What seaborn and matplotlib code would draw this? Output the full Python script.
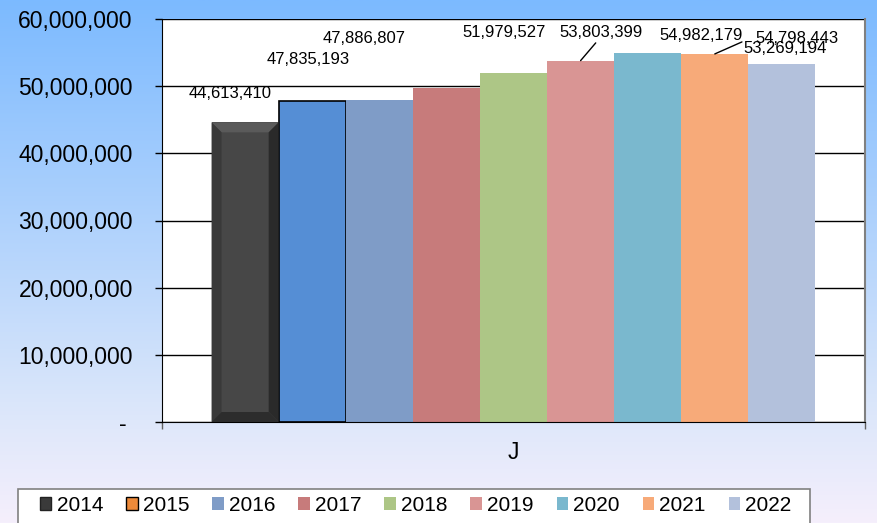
import matplotlib
matplotlib.use("Agg")
import matplotlib.pyplot as plt
import seaborn as sns
import pandas as pd
import numpy as np
from matplotlib.colors import LinearSegmentedColormap
from matplotlib.patches import Patch, Rectangle, Polygon
from matplotlib.transforms import IdentityTransform
from matplotlib.ticker import FuncFormatter

# data
years = ["2014", "2015", "2016", "2017", "2018", "2019", "2020", "2021", "2022"]
values = [44613410, 47835193, 47886807, 49750000, 51979527, 53803399, 54982179, 54798443, 53269194]
show_label = [True, True, True, False, True, True, True, True, True]
category = "J"

colors = ["#474747", "#558ed5", "#7f9cc7", "#c77b7b", "#adc686", "#d99594",
          "#7ab8ce", "#f7aa79", "#b3c1dc"]
legend_colors = ["#3a3a3a", "#ed8a3a"] + colors[2:]

# label offsets in pixels (dx, dy) from top centre of each bar, and leader flag
label_offsets = [(-15, 29), (-4, 41), (-15, 62), (0, 0), (-9, 40),
                 (20, 28), (53, 17), (82, 15), (3, 16)]
leaders = [None, None, None, None, None, (0.47, 0.0), None, (-0.16, 0.3), None]

df = pd.DataFrame({"cat": [category] * len(years), "year": years, "value": values})

plt.rcParams["font.family"] = ["Liberation Sans", "DejaVu Sans"]

fig = plt.figure(figsize=(8.77, 5.23), dpi=100)

# gradient background
bg = fig.add_axes([0, 0, 1, 1], zorder=-10)
cmap = LinearSegmentedColormap.from_list(
    "bg", [(0, "#7cbaff"), (0.5, "#b8d6fc"), (0.77, "#dae6fa"), (1.0, "#f5effc")])
bg.imshow(np.linspace(0, 1, 256).reshape(-1, 1), aspect="auto", cmap=cmap,
          extent=[0, 1, 0, 1], origin="upper")
bg.axis("off")

ax = fig.add_axes([162 / 877, 1 - 422 / 523, 703 / 877, 403 / 523])
ax.set_facecolor("white")

sns.barplot(data=df, x="cat", y="value", hue="year", palette=colors,
            width=0.859, gap=0, dodge=True, legend=False, ax=ax, saturation=1,
            linewidth=0)

ax.set_ylim(0, 60000000)
ax.set_xlim(-0.5, 0.5)

bars = [c[0] for c in ax.containers]
# 2015 outlined
bars[1].set_edgecolor("black")
bars[1].set_linewidth(1.2)

# bevel on the 2014 bar (pixel-wide borders)
b0 = bars[0]
(x0, y0), (x1, y1) = ax.transData.transform(
    [(b0.get_x(), 0), (b0.get_x() + b0.get_width(), b0.get_height())])
w = 10
bevels = [
    ([(x0, y1), (x1, y1), (x1 - w, y1 - w), (x0 + w, y1 - w)], "#5a5a5a"),
    ([(x0, y0), (x0, y1), (x0 + w, y1 - w), (x0 + w, y0 + w)], "#393939"),
    ([(x1, y0), (x1, y1), (x1 - w, y1 - w), (x1 - w, y0 + w)], "#2a2a2a"),
    ([(x0, y0), (x1, y0), (x1 - w, y0 + w), (x0 + w, y0 + w)], "#2c2c2c"),
]
for pts, c in bevels:
    ax.add_patch(Polygon(pts, closed=True, facecolor=c, edgecolor="none",
                         transform=IdentityTransform(), zorder=3))

for i, b in enumerate(bars):
    if not show_label[i]:
        continue
    x = b.get_x() + b.get_width() / 2
    y = b.get_height()
    dx, dy = label_offsets[i]
    arrow = None
    if leaders[i] is not None:
        arrow = dict(arrowstyle="-", color="black", lw=1, shrinkA=0, shrinkB=0,
                     relpos=leaders[i])
    ax.annotate(f"{values[i]:,}", xy=(x, y), xytext=(dx, dy),
                textcoords="offset pixels", ha="center", va="center",
                fontsize=12, color="black", arrowprops=arrow,
                annotation_clip=False, zorder=5)

ax.set_yticks(np.arange(0, 60000001, 10000000))
ax.yaxis.set_major_formatter(FuncFormatter(lambda v, p: "- " if v == 0 else f"{int(v):,}"))
ax.grid(axis="y", color="black", linewidth=1)
ax.set_axisbelow(True)
ax.tick_params(axis="y", labelsize=16.5, length=5, width=1, color="black", pad=16)
ax.set_xticks([0])
ax.set_xticklabels([category])
ax.tick_params(axis="x", labelsize=16.5, length=0, pad=14)
ax.set_xticks([-0.5, 0.5], minor=True)
ax.tick_params(axis="x", which="minor", length=5, width=1, color="#606060")
ax.set_xlabel("")
ax.set_ylabel("")
ax.spines["top"].set_visible(False)
ax.spines["left"].set_color("black")
ax.spines["bottom"].set_color("black")
ax.spines["right"].set_color("#808080")
ax.spines["right"].set_linewidth(1.5)

# legend
frame = Rectangle((18 / 877, -0.02), 792 / 877, 0.02 + (523 - 489) / 523,
                  transform=fig.transFigure, facecolor="white",
                  edgecolor="#808080", linewidth=1.2, zorder=1)
fig.patches.append(frame)
handles = []
for i, yr in enumerate(years):
    ec = "black" if i == 1 else ("#222222" if i == 0 else "none")
    handles.append(Patch(facecolor=legend_colors[i], edgecolor=ec,
                         linewidth=1 if i < 2 else 0, label=yr))
leg = fig.legend(handles=handles, loc="center left",
                 bbox_to_anchor=(40 / 877, 1 - 505.5 / 523), ncol=9,
                 frameon=False, fontsize=15, handlelength=0.55, handleheight=0.6,
                 handletextpad=0.25, columnspacing=1.1, borderpad=0, borderaxespad=0)
leg.set_zorder(2)

fig.savefig("out.png", dpi=100)
